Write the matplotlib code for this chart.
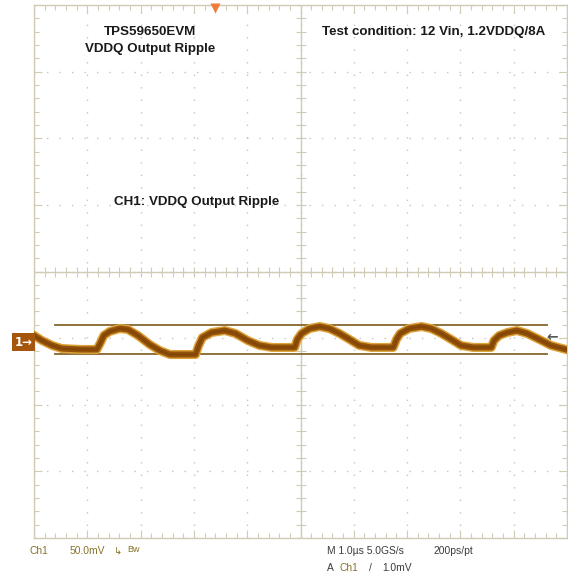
import matplotlib.pyplot as plt
import matplotlib.transforms as mtransforms
from matplotlib.ticker import MultipleLocator

# trace of CH1, time in us (1 us/div), voltage in mV (50 mV/div)
t_us = [-5.00, -4.85, -4.66, -4.48, -4.14, -3.82, -3.76, -3.69, -3.58, -3.39,
        -3.24, -3.05, -2.83, -2.64, -2.45, -2.17, -1.97, -1.91, -1.84, -1.67,
        -1.42, -1.22, -0.99, -0.77, -0.54, -0.11, -0.06, 0.02, 0.17, 0.36,
        0.54, 0.73, 0.92, 1.10, 1.33, 1.74, 1.80, 1.87, 2.04, 2.27,
        2.45, 2.64, 2.83, 3.01, 3.24, 3.58, 3.63, 3.73, 3.88, 4.06,
        4.25, 4.48, 4.70, 4.98]
v_mv = [-48.0, -51.8, -55.5, -57.8, -58.5, -58.5, -54.0, -48.0, -45.0, -42.8,
        -43.5, -48.0, -54.8, -59.3, -62.3, -62.3, -62.3, -55.5, -49.5, -45.8,
        -44.3, -46.5, -51.8, -55.5, -57.0, -57.0, -51.0, -46.5, -42.8, -41.3,
        -42.8, -46.5, -51.0, -55.5, -57.0, -57.0, -51.0, -46.5, -42.8, -41.3,
        -42.8, -46.5, -51.0, -55.5, -57.0, -57.0, -51.8, -48.0, -45.8, -44.3,
        -46.5, -51.0, -55.5, -58.5]

# horizontal cursors (mV) and their span (us)
cursor_levels = [-39.8, -61.6]
cursor_span = [-4.61, 4.63]

ch1_level = -53.0
trigger_t = -1.61

fig = plt.figure(figsize=(5.68, 5.79), dpi=100)
W, H = 568, 579
ax = fig.add_axes([34 / W, (H - 538) / H, (567 - 34) / W, (538 - 5) / H])
ax.set_xlim(-5, 5)
ax.set_ylim(-200, 200)

frame = '#cfcbb4'
for s in ax.spines.values():
    s.set_color(frame)
    s.set_linewidth(1.0)

ax.xaxis.set_major_locator(MultipleLocator(1))
ax.xaxis.set_minor_locator(MultipleLocator(0.2))
ax.yaxis.set_major_locator(MultipleLocator(50))
ax.yaxis.set_minor_locator(MultipleLocator(10))
ax.tick_params(which='both', direction='in', top=True, right=True,
               labelbottom=False, labelleft=False, color=frame)
ax.tick_params(which='major', length=6, width=0.8)
ax.tick_params(which='minor', length=3.5, width=0.8)

# dotted graticule
ax.grid(which='major', color='#c4c4c4', linestyle=(0, (1, 8)), linewidth=1.0)

# center crosshair with subdivision marks
ax.axhline(0, color=frame, lw=1.0)
ax.axvline(0, color=frame, lw=1.0)
sub_x = [i * 0.2 for i in range(-25, 26)]
sub_y = [i * 10 for i in range(-20, 21)]
ax.plot(sub_x, [0] * len(sub_x), ls='none', marker='|', ms=7, mew=0.8, color=frame)
ax.plot([0] * len(sub_y), sub_y, ls='none', marker='_', ms=7, mew=0.8, color=frame)

# cursors
for lv in cursor_levels:
    ax.plot(cursor_span, [lv, lv], color='#86672c', lw=1.3, zorder=3)

# noisy trace: amber fringe with a dark brown core
ax.plot(t_us, v_mv, color='#dca43a', lw=6.5, solid_joinstyle='round', zorder=4)
ax.plot(t_us, v_mv, color='#95520a', lw=4.4, solid_joinstyle='round', zorder=5)
ax.plot(t_us, v_mv, color='#7a4206', lw=1.6, alpha=0.7, zorder=6)

# channel 1 reference marker
ax.text(-5.03, ch1_level, '1\u2192', ha='right', va='center', color='white',
        fontsize=8.5, fontweight='bold', clip_on=False, zorder=7,
        bbox=dict(boxstyle='square,pad=0.2', fc='#a5560c', ec='none'))
ax.text(4.72, -49, '\u2190', ha='center', va='center', color='#555555',
        fontsize=10, fontweight='bold', zorder=7)

# trigger position marker
trans = mtransforms.blended_transform_factory(ax.transData, ax.transAxes)
ax.plot([trigger_t], [0.995], marker='v', ms=7, color='#f07a3a', mec='none',
        transform=trans, clip_on=False, zorder=8)

# annotations
lbl = dict(fontsize=9.6, fontweight='bold', color='#1a1a1a',
           family=['Liberation Sans', 'DejaVu Sans'])
ax.text(-2.83, 180, 'TPS59650EVM', ha='center', va='center', **lbl)
ax.text(-2.83, 167, 'VDDQ Output Ripple', ha='center', va='center', **lbl)
ax.text(0.41, 180, 'Test condition: 12 Vin, 1.2VDDQ/8A', ha='left', va='center', **lbl)
ax.text(-1.95, 52, 'CH1: VDDQ Output Ripple', ha='center', va='center', **lbl)

# scope readout along the bottom
ro = dict(fontsize=7.4, family=['Liberation Sans', 'DejaVu Sans'],
          va='center', ha='left')
olive = '#86732a'
dark = '#3c3c3c'
fig.text(30 / W, 1 - 551 / H, 'Ch1', color=olive, **ro)
fig.text(70 / W, 1 - 551 / H, '50.0mV', color=olive, **ro)
fig.text(114 / W, 1 - 551 / H, '\u21b3', color=olive, fontsize=7,
         va='center', ha='left')
fig.text(127 / W, 1 - 549 / H, 'Bw', color=olive, fontsize=6.5,
         family=['Liberation Sans', 'DejaVu Sans'], va='center', ha='left')
fig.text(327 / W, 1 - 551 / H, 'M 1.0\u00b5s 5.0GS/s', color=dark, **ro)
fig.text(433 / W, 1 - 551 / H, '200ps/pt', color=dark, **ro)
fig.text(327 / W, 1 - 568 / H, 'A', color=dark, **ro)
fig.text(340 / W, 1 - 568 / H, 'Ch1', color=olive, **ro)
fig.text(369 / W, 1 - 568 / H, '/', color=dark, **ro)
fig.text(382 / W, 1 - 568 / H, '1.0mV', color=dark, **ro)

fig.savefig('out.png', dpi=100)
